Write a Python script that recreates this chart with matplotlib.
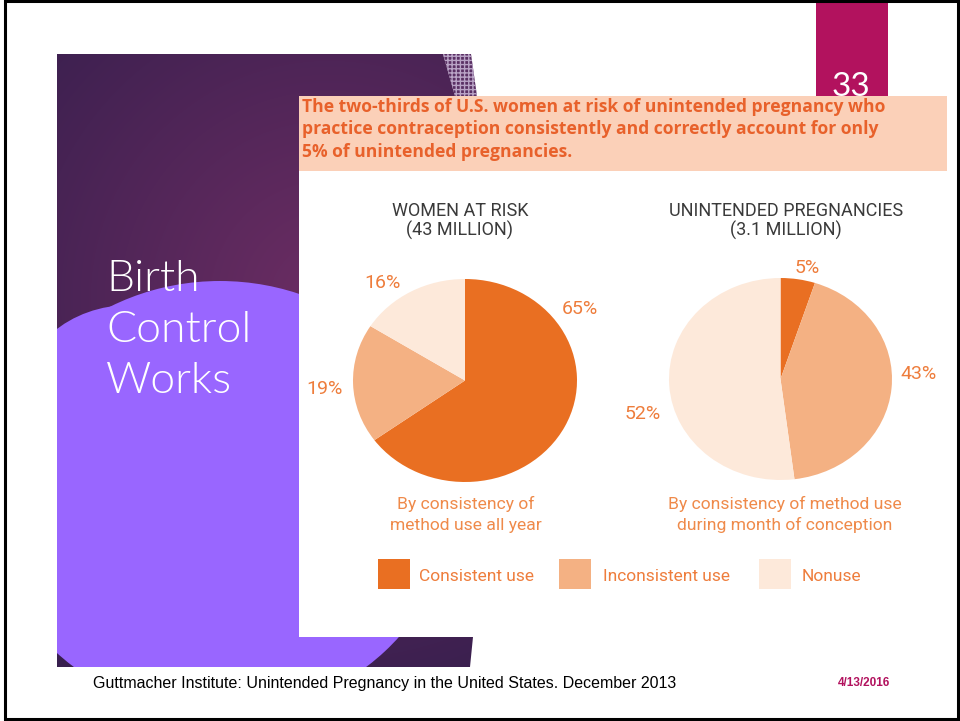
import numpy as np
import matplotlib
matplotlib.use('Agg')
import matplotlib.pyplot as plt
from matplotlib import font_manager
from matplotlib.patches import Rectangle, Polygon, Ellipse

# data
categories = ['Consistent use', 'Inconsistent use', 'Nonuse']
women_at_risk = [65, 19, 16]
unintended_pregnancies = [5, 43, 52]
pie_titles = [['WOMEN AT RISK', '(43 MILLION)'],
              ['UNINTENDED PREGNANCIES', '(3.1 MILLION)']]
pie_captions = [['By consistency of', 'method use all year'],
                ['By consistency of method use', 'during month of conception']]
headline = ['The two-thirds of U.S. women at risk of unintended pregnancy who',
            'practice contraception consistently and correctly account for only',
            '5% of unintended pregnancies.']
slide_title = ['Birth', 'Control', 'Works']
source = 'Guttmacher Institute: Unintended Pregnancy in the United States. December 2013'
slide_date = '4/13/2016'
slide_number = '33'

colors = ['#e96f22', '#f4b183', '#fde9da']
label_color = '#ee7d3c'

W, H = 960, 721

names = {f.name for f in font_manager.fontManager.ttflist}
narrow = 'Liberation Sans Narrow' if 'Liberation Sans Narrow' in names else 'Roboto'
k_size = 1.0 if narrow == 'Roboto' else 1.1

fig = plt.figure(figsize=(W / 100, H / 100), dpi=100, facecolor='white')
bg = fig.add_axes([0, 0, 1, 1])
bg.set_xlim(0, W)
bg.set_ylim(H, 0)
bg.axis('off')

# dark purple block with radial gradient
dark = Polygon([(57, 54), (443, 54), (455, 96), (473, 637), (470, 667), (57, 667)],
               closed=True, facecolor='none', edgecolor='none')
bg.add_patch(dark)
gx, gy = np.meshgrid(np.linspace(57, 480, 200), np.linspace(54, 667, 300))
d = np.clip(np.hypot(gx - 330, gy - 300) / 420, 0, 1)[..., None]
c0 = np.array([0x6c, 0x2d, 0x63]) / 255
c1 = np.array([0x38, 0x1f, 0x4e]) / 255
img = bg.imshow(c0 * (1 - d) + c1 * d, extent=[57, 480, 667, 54], origin='upper',
                interpolation='bilinear', zorder=1)
img.set_clip_path(dark)
bg.set_aspect('auto')
bg.set_xlim(0, W)
bg.set_ylim(H, 0)

# hatched strip at the top right of the block
bg.add_patch(Polygon([(443, 54), (471, 54), (477, 96), (455, 96)], closed=True,
                     facecolor='#5a3064', edgecolor='#b9a3c6', hatch='++++', lw=0, zorder=2))

# light purple blob
for p in [Ellipse((220, 498), 466, 434), Ellipse((130, 400), 220, 190)]:
    p.set_facecolor('#9966ff')
    p.set_edgecolor('none')
    p.set_zorder(2)
    bg.add_patch(p)
    p.set_clip_path(dark)

for i, line in enumerate(slide_title):
    bg.text(106, 291 + 51 * i, line, color='white', fontsize=32, family='Lato',
            fontweight=300, va='baseline', ha='left', zorder=3)

# magenta tab with slide number
bg.add_patch(Rectangle((816, 0), 72, 96, facecolor='#b2125e', edgecolor='none', zorder=2))

# chart panel
bg.add_patch(Rectangle((299, 171), 648, 466, facecolor='white', edgecolor='none', zorder=4))
bg.add_patch(Rectangle((299, 96), 648, 75, facecolor='#fbd0b8', edgecolor='none', zorder=4))
for i, line in enumerate(headline):
    bg.text(302, 112 + 22.5 * i, line, color='#e8612b', fontsize=12.6, family='Open Sans',
            fontweight='bold', va='baseline', ha='left', zorder=5)
bg.text(851, 96, slide_number, color='white', fontsize=24, family='Lato',
        ha='center', va='baseline', zorder=6)

# pies
pie_boxes = [(353, 279, 224, 203), (669, 278, 223, 202)]
title_x = [460, 786]
caption_x = [466, 785]
pct_xy = [[(580, 314), (325, 394), (383, 288)],
          [(807, 273), (919, 379), (643, 419)]]

for k, values in enumerate([women_at_risk, unintended_pregnancies]):
    x0, y0, w, h = pie_boxes[k]
    ax = fig.add_axes([x0 / W, 1 - (y0 + h) / H, w / W, h / H])
    ax.pie(values, colors=colors, startangle=90, counterclock=False,
           wedgeprops=dict(linewidth=0))
    ax.set_aspect('auto')
    ax.set_xlim(-1, 1)
    ax.set_ylim(-1, 1)
    ax.axis('off')

    for i, line in enumerate(pie_titles[k]):
        bg.text(title_x[k], 216 + 20 * i, line, color='#3a3a3a', fontsize=13 * k_size,
                family=narrow, ha='center', va='baseline', zorder=5)
    for i, line in enumerate(pie_captions[k]):
        bg.text(caption_x[k], 509 + 21 * i, line, color='#ef8a4a', fontsize=12.6 * k_size,
                family=narrow, ha='center', va='baseline', zorder=5)
    for v, (tx, ty) in zip(values, pct_xy[k]):
        bg.text(tx, ty, f'{v}%', color=label_color, fontsize=14 * k_size, family=narrow,
                ha='center', va='baseline', zorder=5)

# legend
legend_x = [378, 559, 759]
legend_text_x = [419, 603, 802]
for cat, col, lx, tx in zip(categories, colors, legend_x, legend_text_x):
    bg.add_patch(Rectangle((lx, 559), 32, 30, facecolor=col, edgecolor='none', zorder=5))
    bg.text(tx, 581, cat, color=label_color, fontsize=12.5 * k_size, family=narrow,
            ha='left', va='baseline', zorder=5)

# footer
bg.text(93, 688, source, color='black', fontsize=11.5, family='Liberation Sans',
        ha='left', va='baseline', zorder=5)
bg.text(838, 686, slide_date, color='#b2125e', fontsize=8.5, family='Liberation Sans',
        fontweight='bold', ha='left', va='baseline', zorder=5)

# slide frame
bg.add_patch(Rectangle((4.5, 1.3), 953, 718, facecolor='none', edgecolor='black',
                       lw=2.2, zorder=10))

fig.savefig('out.png', dpi=100, facecolor='white')
